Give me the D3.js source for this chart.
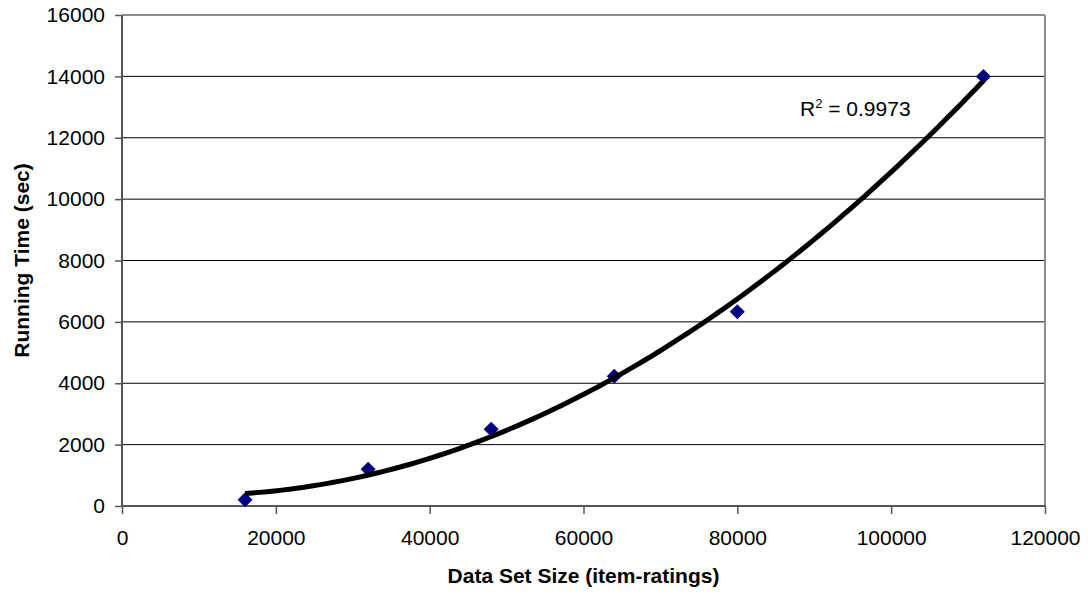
<!DOCTYPE html>
<html>
<head>
<meta charset="utf-8">
<script src="https://cdn.jsdelivr.net/npm/d3@7"></script>
<style>
  html, body { margin: 0; padding: 0; background: #fff; }
  svg { display: block; font-family: "Liberation Sans", Arial, sans-serif; }
</style>
</head>
<body>
<svg id="chart" width="1088" height="594"></svg>
<script>
// Data set size (item-ratings) vs. running time (sec)
const dataSetSizes = [16000, 32000, 48000, 64000, 80000, 112000];
const runningTimes = [200, 1200, 2500, 4230, 6330, 14000];
const xTicks = [0, 20000, 40000, 60000, 80000, 100000, 120000];
const yTicks = [0, 2000, 4000, 6000, 8000, 10000, 12000, 14000, 16000];
const rSquaredLabel = "0.9973";

const svg = d3.select("#chart");
const margin = { left: 122, right: 1045, top: 15, bottom: 506 };

const x = d3.scaleLinear().domain([0, 120000]).range([margin.left, margin.right]);
const y = d3.scaleLinear().domain([0, 16000]).range([margin.bottom, margin.top]);

// Horizontal gridlines
svg.append("g")
  .selectAll("line")
  .data(yTicks.filter(v => v > 0 && v < 16000))
  .join("line")
  .attr("x1", margin.left).attr("x2", margin.right)
  .attr("y1", d => y(d)).attr("y2", d => y(d))
  .attr("stroke", "#000").attr("stroke-width", 1);

// Plot frame: top and right borders
svg.append("line")
  .attr("x1", margin.left).attr("x2", margin.right)
  .attr("y1", margin.top).attr("y2", margin.top)
  .attr("stroke", "#8c8c8c").attr("stroke-width", 2);
svg.append("line")
  .attr("x1", margin.right).attr("x2", margin.right)
  .attr("y1", margin.top).attr("y2", margin.bottom)
  .attr("stroke", "#8c8c8c").attr("stroke-width", 2);

// Axes
const xAxis = d3.axisBottom(x).tickValues(xTicks).tickSize(8).tickPadding(16).tickFormat(d3.format("d"));
const yAxis = d3.axisLeft(y).tickValues(yTicks).tickSize(7).tickPadding(10).tickFormat(d3.format("d"));

const gx = svg.append("g").attr("transform", `translate(0,${margin.bottom})`).call(xAxis);
const gy = svg.append("g").attr("transform", `translate(${margin.left},0)`).call(yAxis);

[gx, gy].forEach(g => {
  g.select(".domain").attr("stroke", "#555").attr("stroke-width", 2);
  g.selectAll(".tick line").attr("stroke", "#555").attr("stroke-width", 1.5);
  g.selectAll(".tick text")
    .attr("fill", "#000")
    .style("font-family", '"Liberation Sans", Arial, sans-serif')
    .style("font-size", "21px");
});
gx.select(".domain").attr("d", `M${margin.left},0H${margin.right}`);
gy.select(".domain").attr("d", `M0,${margin.top}V${margin.bottom}`);

// Axis titles
svg.append("text")
  .attr("x", (margin.left + margin.right) / 2)
  .attr("y", 583)
  .attr("text-anchor", "middle")
  .style("font-size", "21px").style("font-weight", "bold")
  .text("Data Set Size (item-ratings)");

svg.append("text")
  .attr("transform", `translate(29,${(margin.top + margin.bottom) / 2}) rotate(-90)`)
  .attr("text-anchor", "middle")
  .style("font-size", "21px").style("font-weight", "bold")
  .text("Running Time (sec)");

// Data markers (diamonds)
const points = dataSetSizes.map((v, i) => ({ x: v, y: runningTimes[i] }));
svg.append("g")
  .selectAll("path")
  .data(points)
  .join("path")
  .attr("transform", d => `translate(${x(d.x)},${y(d.y)})`)
  .attr("d", "M0,-7.5L7.5,0L0,7.5L-7.5,0Z")
  .attr("fill", "#000080");

// Second-order polynomial trendline (least squares)
function polyFit2(xs, ys) {
  const s = k => d3.sum(xs, v => Math.pow(v, k));
  const sxy = k => d3.sum(xs, (v, i) => Math.pow(v, k) * ys[i]);
  const A = [
    [s(4), s(3), s(2), sxy(2)],
    [s(3), s(2), s(1), sxy(1)],
    [s(2), s(1), xs.length, sxy(0)]
  ];
  for (let c = 0; c < 3; c++) {
    for (let r = c + 1; r < 3; r++) {
      const f = A[r][c] / A[c][c];
      for (let k = c; k < 4; k++) A[r][k] -= f * A[c][k];
    }
  }
  const sol = [0, 0, 0];
  for (let r = 2; r >= 0; r--) {
    let acc = A[r][3];
    for (let k = r + 1; k < 3; k++) acc -= A[r][k] * sol[k];
    sol[r] = acc / A[r][r];
  }
  return v => sol[0] * v * v + sol[1] * v + sol[2];
}
const scaleUnit = 10000;
const trend = polyFit2(dataSetSizes.map(v => v / scaleUnit), runningTimes);
const xMin = d3.min(dataSetSizes), xMax = d3.max(dataSetSizes);
const trendPts = d3.range(0, 101).map(i => {
  const xv = xMin + (xMax - xMin) * i / 100;
  return [xv, trend(xv / scaleUnit)];
});
svg.append("path")
  .datum(trendPts)
  .attr("d", d3.line().x(d => x(d[0])).y(d => y(d[1])).curve(d3.curveLinear))
  .attr("fill", "none")
  .attr("stroke", "#000")
  .attr("stroke-width", 5)
  .attr("stroke-linejoin", "round");

// R-squared label
const rLabel = svg.append("text")
  .attr("x", 800).attr("y", 116)
  .style("font-size", "21px");
rLabel.append("tspan").text("R");
rLabel.append("tspan").attr("dy", -8).style("font-size", "13px").text("2");
rLabel.append("tspan").attr("dy", 8).text(" = " + rSquaredLabel);
</script>
</body>
</html>
